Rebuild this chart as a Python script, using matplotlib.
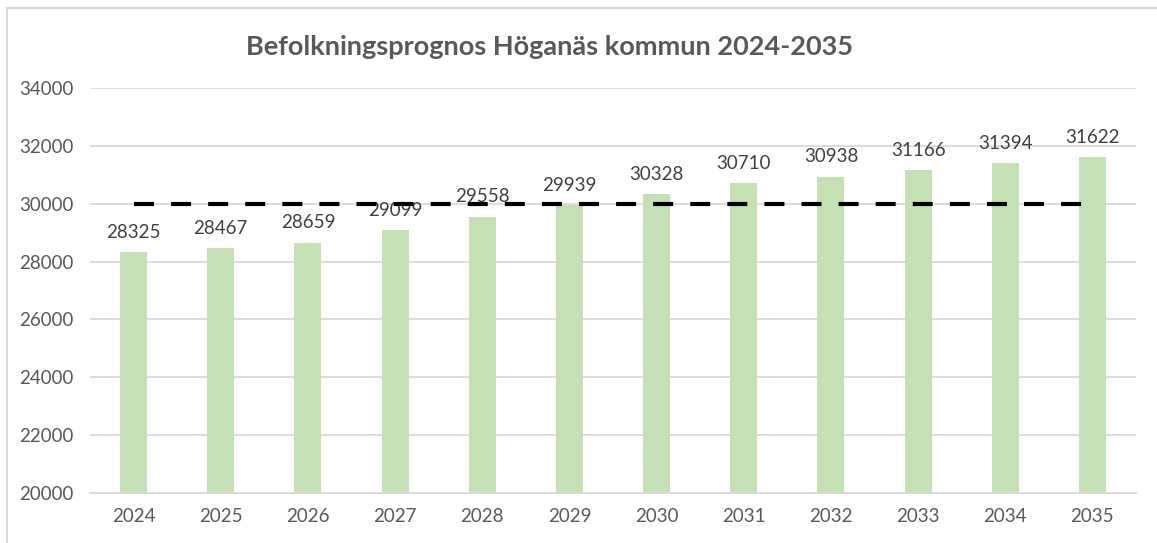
import numpy as np
import matplotlib.pyplot as plt
from matplotlib.patches import Rectangle

# Data
years = ['2024', '2025', '2026', '2027', '2028', '2029',
         '2030', '2031', '2032', '2033', '2034', '2035']
population = [28325, 28467, 28659, 29099, 29558, 29939,
              30328, 30710, 30938, 31166, 31394, 31622]
target = [30000] * 12

plt.rcParams['font.family'] = ['Lato', 'DejaVu Sans']
grey = '#595959'

fig = plt.figure(figsize=(11.57, 5.43), dpi=100)
ax = fig.add_axes([90 / 1157, 1 - 493 / 543, (1136 - 90) / 1157, (493 - 88) / 543])

x = np.arange(len(years))
bars = ax.bar(x, population, width=0.31, color='#C5E0B4', zorder=2)
ax.plot(x, target, color='black', lw=3, dashes=(4.8, 4.1),
        solid_capstyle='butt', dash_capstyle='butt', zorder=4)

for xi, v in zip(x, population):
    ax.annotate(str(v), (xi, v), xytext=(0, 8), textcoords='offset points',
                ha='center', va='bottom', fontsize=13.5, color='#404040', zorder=3)

ax.set_xlim(-0.5, 11.5)
ax.set_ylim(20000, 34000)
ax.set_yticks(range(20000, 34001, 2000))
ax.set_xticks(x)
ax.set_xticklabels(years)
ax.grid(axis='y', color='#D9D9D9', lw=1.3, zorder=0)
for s in ['top', 'right', 'left']:
    ax.spines[s].set_visible(False)
ax.spines['bottom'].set_color('#D9D9D9')
ax.spines['bottom'].set_linewidth(1.3)
ax.tick_params(length=0, labelsize=13.5, labelcolor=grey)
ax.tick_params(axis='x', pad=11)
ax.tick_params(axis='y', pad=12)

fig.text(550 / 1157, 1 - 47 / 543, 'Befolkningsprognos Höganäs kommun 2024-2035',
         ha='center', va='center', fontsize=19.5, fontweight='bold', color=grey)

# chart frame
fig.patches.append(Rectangle((7 / 1157, -0.05), 1.2, 1 - 8 / 543 + 0.05,
                             transform=fig.transFigure, fill=False,
                             edgecolor='#D9D9D9', lw=1.5))

fig.savefig('out.png', dpi=100)
